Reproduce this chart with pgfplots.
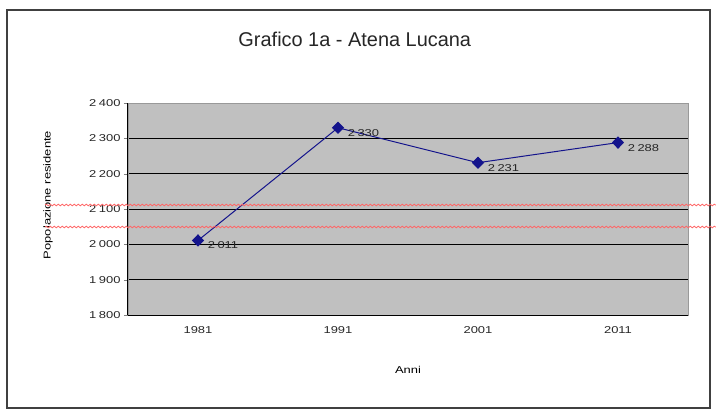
\documentclass[border=0pt]{standalone}
\usepackage{fontspec}
\setmainfont{Liberation Sans}
\newfontfamily\wfont{Liberation Sans}[FakeStretch=1.3]
\usepackage{pgfplots}
\pgfplotsset{compat=1.18}
\usetikzlibrary{decorations.pathmorphing}
\definecolor{plotgray}{RGB}{192,192,192}
\definecolor{navyline}{RGB}{20,20,140}
\begin{document}
\begin{tikzpicture}
\draw[line width=1.2bp, black!75] (-121bp,-93bp) rectangle (582bp,305bp);
\begin{axis}[
  at={(0,0)}, anchor=south west,
  scale only axis, width=560bp, height=212bp,
  xmin=-0.5, xmax=3.5, ymin=1800, ymax=2400,
  xtick={0,1,2,3}, xticklabels={1981,1991,2001,2011},
  major x tick style={draw=none},
  extra x ticks={0.5,1.5,2.5}, extra x tick labels={},
  extra x tick style={major tick length=4bp, tick style={draw=black, line width=0.8bp}},
  ytick={1800,1900,...,2400},
  tick align=outside, major tick length=4bp,
  tick pos=left,
  ymajorgrids, grid style={black, line width=0.9bp},
  axis background/.style={fill=plotgray},
  axis line style={draw=gray!80},
  tick label style={font=\wfont\fontsize{10}{12}\selectfont, text=black!85},
  xticklabel style={yshift=-4bp},
  /pgf/number format/.cd, 1000 sep={\hspace{2.5bp}}, assume math mode=true, /pgfplots/.cd,
  title={Grafico 1a - Atena Lucana},
  title style={font=\fontsize{20}{24}\selectfont, text=black!85, at={(rel axis cs:0.405,1.274)}, anchor=center},
  xlabel={Anni},
  xlabel style={font=\wfont\fontsize{10}{12}\selectfont, at={(rel axis cs:0.5,0)}, yshift=-55bp, anchor=center},
  ylabel={Popolazione residente},
  ylabel style={font=\wfont\fontsize{10}{12}\selectfont, at={(rel axis cs:0,0.566)}, yshift=80bp, anchor=center},
  clip=false,
]
\draw[black, line width=1bp] (rel axis cs:0,0) -- (rel axis cs:0,1);
\draw[black, line width=1bp] (rel axis cs:0,0) -- (rel axis cs:1,0);
\addplot[navyline, line width=1bp, mark=diamond*, mark size=5.5bp,
  mark options={fill=navyline, draw=navyline, xscale=1.3},
  nodes near coords,
  every node near coord/.append style={anchor=west, xshift=6bp, yshift=-5bp, text=black!85, font=\wfont\fontsize{10}{12}\selectfont,
    /pgf/number format/1000 sep={\hspace{2.5bp}}, /pgf/number format/assume math mode=true},
] coordinates {(0,2011) (1,2330) (2,2231) (3,2288)};
\end{axis}
\draw[red!60, line width=0.8bp, decorate, decoration={snake, segment length=4bp, amplitude=0.8bp}] (-83bp,110bp) -- (588bp,110bp);
\draw[red!60, line width=0.8bp, decorate, decoration={snake, segment length=4bp, amplitude=0.8bp}] (-83bp,88bp) -- (588bp,88bp);
\pgfresetboundingbox
\path (-128bp,-95bp) rectangle (588bp,315bp);
\end{tikzpicture}
\end{document}
